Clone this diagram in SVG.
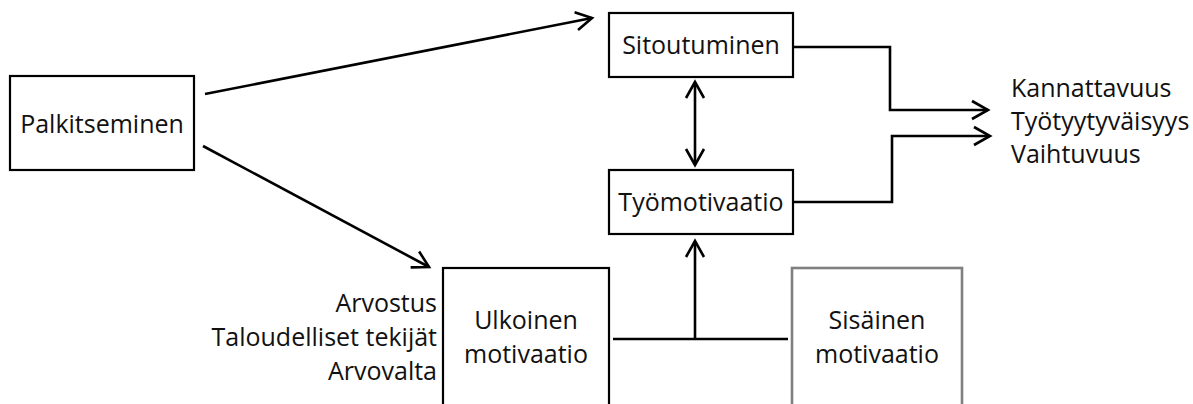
<svg xmlns="http://www.w3.org/2000/svg" width="1193" height="404" viewBox="0 0 1193 404">
<style>
.box{fill:#fff;stroke:#000;stroke-width:2.2}
.gbox{fill:#fff;stroke:#808080;stroke-width:2.6}
.t{font-family:"Open Sans","Noto Sans","DejaVu Sans",sans-serif;font-size:25px;fill:#111}
.c{text-anchor:middle}
.r{text-anchor:end}
.ln{fill:none;stroke:#000;stroke-width:2.6}
</style>
<defs>
<marker id="ah" markerUnits="userSpaceOnUse" markerWidth="30" markerHeight="30" viewBox="-22 -15 30 30" refX="0" refY="0" orient="auto-start-reverse" overflow="visible">
<path d="M-16,-9 L0,0 L-16,9" fill="none" stroke="#000" stroke-width="2.6"/>
</marker>
</defs>
<rect width="1193" height="404" fill="#fff"/>
<g id="connectors">
<line class="ln" x1="205" y1="94" x2="592" y2="18" marker-end="url(#ah)"/>
<line class="ln" x1="203" y1="146" x2="429" y2="267" marker-end="url(#ah)"/>
<line class="ln" x1="695" y1="82" x2="695" y2="165" marker-start="url(#ah)" marker-end="url(#ah)"/>
<line class="ln" x1="613" y1="339" x2="788" y2="339"/>
<line class="ln" x1="695" y1="339" x2="695" y2="241" marker-end="url(#ah)"/>
<path class="ln" d="M793,47 H890 V110 H988" marker-end="url(#ah)"/>
<path class="ln" d="M793,202 H892 V136 H990" marker-end="url(#ah)"/>
</g>
<g id="palkitseminen">
<rect class="box" x="10" y="76" width="184" height="94"/>
<text class="t c" x="102" y="133">Palkitseminen</text>
</g>
<g id="sitoutuminen">
<rect class="box" x="609" y="13" width="184" height="64"/>
<text class="t c" x="701" y="54">Sitoutuminen</text>
</g>
<g id="tyomotivaatio">
<rect class="box" x="609" y="170" width="184" height="64"/>
<text class="t c" x="701" y="211">Työmotivaatio</text>
</g>
<g id="ulkoinen">
<rect class="box" x="443" y="268" width="166" height="150"/>
<text class="t c" x="526" y="329">Ulkoinen</text>
<text class="t c" x="526" y="363">motivaatio</text>
</g>
<g id="sisainen">
<rect class="gbox" x="792" y="268" width="170" height="150"/>
<text class="t c" x="877" y="329">Sisäinen</text>
<text class="t c" x="877" y="363">motivaatio</text>
</g>
<g id="ulkoiset-tekijat">
<text class="t r" x="437" y="312">Arvostus</text>
<text class="t r" x="437" y="346">Taloudelliset tekijät</text>
<text class="t r" x="437" y="380">Arvovalta</text>
</g>
<g id="tulokset">
<text class="t" x="1011" y="97">Kannattavuus</text>
<text class="t" x="1011" y="130">Työtyytyväisyys</text>
<text class="t" x="1011" y="163">Vaihtuvuus</text>
</g>
</svg>
